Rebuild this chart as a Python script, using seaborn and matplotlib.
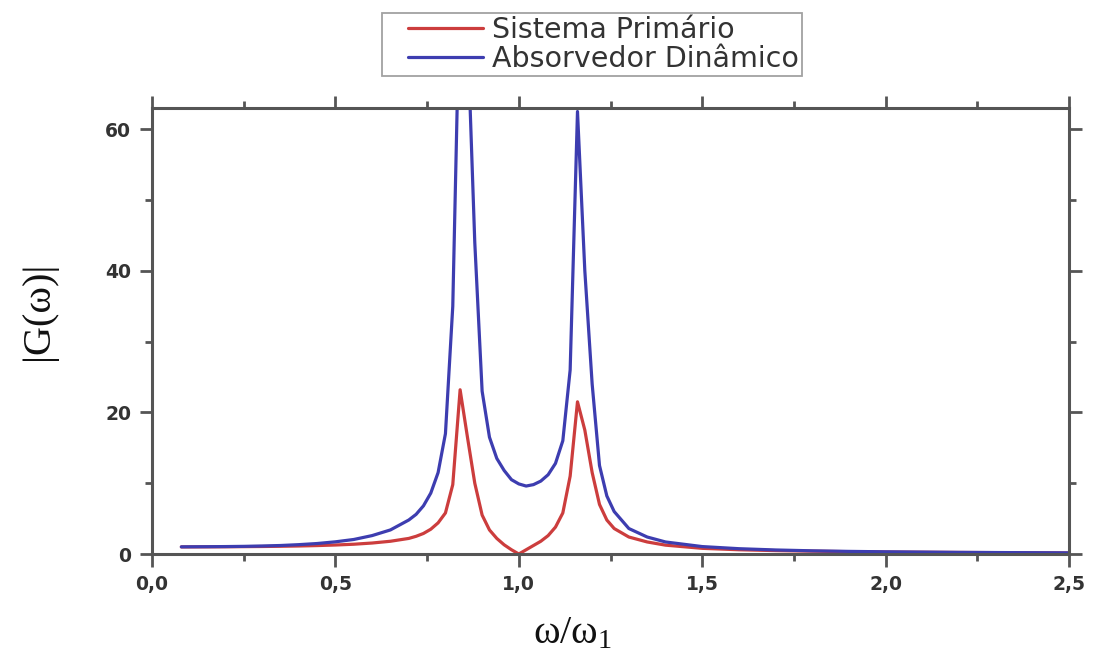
import matplotlib
matplotlib.use("Agg")
import matplotlib.pyplot as plt
import seaborn as sns
import pandas as pd
import numpy as np
from matplotlib.lines import Line2D
from matplotlib.legend_handler import HandlerLine2D
from matplotlib.ticker import MultipleLocator, FuncFormatter

# Frequency ratio w/w1 and the response amplitudes of both masses
freq_ratio = [0.08, 0.15, 0.20, 0.25, 0.30, 0.35, 0.40, 0.45, 0.50, 0.55,
              0.60, 0.65, 0.70, 0.72, 0.74, 0.76, 0.78, 0.80, 0.82, 0.84,
              0.86, 0.88, 0.90, 0.92, 0.94, 0.96, 0.98, 1.00, 1.02, 1.04,
              1.06, 1.08, 1.10, 1.12, 1.14, 1.16, 1.18, 1.20, 1.22, 1.24,
              1.26, 1.30, 1.35, 1.40, 1.50, 1.60, 1.70, 1.80, 1.90, 2.00,
              2.20, 2.50]
primary = [1.00, 1.01, 1.02, 1.04, 1.06, 1.09, 1.13, 1.19, 1.27, 1.38,
           1.55, 1.80, 2.20, 2.50, 2.90, 3.50, 4.40, 5.80, 9.80, 23.2,
           16.5, 10.0, 5.50, 3.40, 2.20, 1.30, 0.60, 0.00, 0.60, 1.20,
           1.80, 2.60, 3.80, 5.80, 11.0, 21.5, 17.5, 11.5, 7.00, 4.80,
           3.60, 2.40, 1.70, 1.25, 0.80, 0.60, 0.48, 0.40, 0.33, 0.28,
           0.22, 0.15]
absorber = [1.01, 1.03, 1.05, 1.08, 1.13, 1.20, 1.32, 1.48, 1.72, 2.05,
            2.60, 3.40, 4.80, 5.60, 6.80, 8.60, 11.5, 17.0, 35.0, 82.0,
            74.0, 44.0, 23.0, 16.5, 13.5, 11.8, 10.5, 9.90, 9.60, 9.80,
            10.3, 11.2, 12.8, 16.0, 26.0, 62.5, 40.0, 24.0, 12.5, 8.20,
            6.00, 3.60, 2.40, 1.70, 1.05, 0.75, 0.57, 0.45, 0.37, 0.31,
            0.23, 0.16]

series_names = ["Sistema Primário", "Absorvedor Dinâmico"]
series_colors = ["#cc3d3d", "#3d3db0"]

x_ticks = [0.0, 0.5, 1.0, 1.5, 2.0, 2.5]
y_ticks = [0, 20, 40, 60]


class InsetLineHandler(HandlerLine2D):
    """Legend line that starts a little inside its handle box."""

    def __init__(self, left_pad=0.8, **kw):
        super().__init__(**kw)
        self.left_pad = left_pad

    def get_xdata(self, legend, xdescent, ydescent, width, height, fontsize):
        xd = np.array([-xdescent + self.left_pad * fontsize, -xdescent + width])
        return xd, xd


sns.set_theme(style="ticks")
plt.rcParams["font.family"] = ["DejaVu Sans"]
plt.rcParams["mathtext.fontset"] = "custom"
plt.rcParams["mathtext.rm"] = "Liberation Serif"
plt.rcParams["mathtext.it"] = "Liberation Serif:italic"

W, H = 1094, 652
fig = plt.figure(figsize=(W / 100, H / 100), dpi=100)
fig.patch.set_facecolor("white")
ax = fig.add_axes([152 / W, 1 - 554 / H, (1069 - 152) / W, (554 - 108) / H])
ax.set_facecolor("white")

df = pd.DataFrame({"w": freq_ratio, "p": primary, "a": absorber})
sns.lineplot(data=df, x="w", y="p", ax=ax, color=series_colors[0],
             linewidth=2.3, label=series_names[0])
sns.lineplot(data=df, x="w", y="a", ax=ax, color=series_colors[1],
             linewidth=2.3, label=series_names[1])

ax.set_xlim(0, 2.5)
ax.set_ylim(0, 63)
ax.set_xticks(x_ticks)
ax.set_yticks(y_ticks)
ax.xaxis.set_minor_locator(MultipleLocator(0.25))
ax.yaxis.set_minor_locator(MultipleLocator(10))
ax.xaxis.set_major_formatter(FuncFormatter(lambda v, p: f"{v:.1f}".replace(".", ",")))
ax.yaxis.set_major_formatter(FuncFormatter(lambda v, p: f"{v:.0f}"))

spine_color = "#555555"
for side in ["left", "right", "top", "bottom"]:
    ax.spines[side].set_visible(True)
    ax.spines[side].set_color(spine_color)
    ax.spines[side].set_linewidth(2.2)

ax.tick_params(which="both", direction="out", color=spine_color,
               top=True, right=True, labeltop=False, labelright=False)
ax.tick_params(which="major", length=9, width=2.0, pad=6,
               labelsize=13.5, labelcolor="#333333")
ax.tick_params(which="minor", length=5, width=2.0)
for lab in ax.get_xticklabels() + ax.get_yticklabels():
    lab.set_fontweight("bold")

ax.set_xlabel(r"$\mathrm{ω/ω_1}$", fontsize=29, color="#111111")
ax.set_ylabel("|G(ω)|", fontsize=29, color="#111111",
              family=["Liberation Serif", "DejaVu Serif"])
ax.xaxis.set_label_coords(0.458, -0.13)
ax.yaxis.set_label_coords(-0.104, 0.545)

handles, labels = ax.get_legend_handles_labels()
ax.get_legend().remove()
leg = ax.legend(handles, labels, loc="upper left",
                bbox_to_anchor=(382 / W, 1 - 13 / H),
                bbox_transform=fig.transFigure, borderaxespad=0,
                fontsize=20.5, frameon=True, fancybox=False,
                borderpad=0.1, labelspacing=0.05,
                handlelength=3.44, handletextpad=0.32,
                handler_map={Line2D: InsetLineHandler(left_pad=0.8)})
leg.get_frame().set_edgecolor("#8a8a8a")
leg.get_frame().set_linewidth(1.3)
for t in leg.get_texts():
    t.set_color("#333333")

fig.savefig("out.png", dpi=100, facecolor="white")
